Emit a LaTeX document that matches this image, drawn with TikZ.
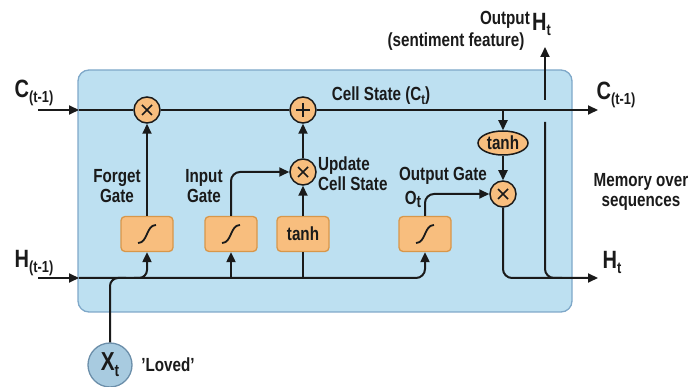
\documentclass[tikz,border=0pt]{standalone}
\usepackage{fontspec}
\setmainfont{Liberation Sans}[FakeStretch=0.8]
\usetikzlibrary{arrows.meta,shapes.geometric}
\definecolor{boxblue}{HTML}{BDE0F1}
\definecolor{boxedge}{HTML}{7FA8C9}
\definecolor{orfill}{HTML}{F8BE7E}
\definecolor{oredge}{HTML}{D8974A}
\definecolor{xtfill}{HTML}{A8CBE0}
\definecolor{xtedge}{HTML}{6C8FAA}
\definecolor{ink}{HTML}{1A1A1A}
\newcommand{\fs}[1]{\fontsize{#1}{#1}\selectfont}
\newcommand{\sbs}[1]{{\fs{16}\raisebox{-5pt}{#1}}}
\begin{document}
\begin{tikzpicture}[x=1pt,y=-1pt,
  wire/.style={line width=2pt, draw=ink},
  arr/.style={wire, -{Triangle[length=10pt,width=9pt]}},
  opc/.style={circle, draw=ink, line width=1.5pt, fill=orfill, minimum size=26pt, inner sep=0pt},
  gbox/.style={rectangle, rounded corners=4pt, draw=oredge, line width=1.3pt, fill=orfill, minimum width=52pt, minimum height=35pt, inner sep=0pt},
  lab/.style={font=\bfseries\fontsize{19}{20}\selectfont, align=center, text=ink, inner sep=0pt},
  big/.style={font=\bfseries\fs{25}, text=ink, inner sep=0pt}
]
\useasboundingbox (0,0) rectangle (691,387);
\newcommand{\sigsym}[1]{\draw[line width=1.8pt, ink] ([shift={(-9,9)}]#1.center) .. controls ([shift={(1,9)}]#1.center) and ([shift={(-1,-9)}]#1.center) .. ([shift={(9,-9)}]#1.center);}
\newcommand{\mulsym}[1]{\draw[line width=1.7pt, ink] ([shift={(-5,-5)}]#1.center) -- ([shift={(5,5)}]#1.center) ([shift={(-5,5)}]#1.center) -- ([shift={(5,-5)}]#1.center);}
\newcommand{\addsym}[1]{\draw[line width=1.7pt, ink] ([shift={(-7,0)}]#1.center) -- ([shift={(7,0)}]#1.center) ([shift={(0,-7)}]#1.center) -- ([shift={(0,7)}]#1.center);}

% main box
\draw[rounded corners=11pt, fill=boxblue, draw=boxedge, line width=1.3pt] (78,70) rectangle (572,312);

% coordinates
\coordinate (cin) at (38,110);
\coordinate (cl) at (79,110);
\coordinate (cout) at (598,110);
\coordinate (hin) at (38,278);
\coordinate (hl) at (79,278);
\coordinate (hout) at (598,278);

% operators
\node[opc] (fx) at (147,110) {};
\node[opc] (plus) at (303,110) {};
\node[opc] (ux) at (303,172) {};
\node[opc] (ox) at (503,194) {};
\node[ellipse, draw=ink, line width=1.5pt, fill=orfill, minimum width=50pt, minimum height=24pt, inner sep=0pt, font=\bfseries\fs{19}, text=ink] (th) at (503,143) {tanh};

% gates
\node[gbox] (g1) at (147,234) {};
\node[gbox] (g2) at (231,234) {};
\node[gbox, font=\bfseries\fs{19}, text=ink] (g3) at (303,234) {tanh};
\node[gbox] (g4) at (425,234) {};

% input
\node[circle, draw=xtedge, line width=1.3pt, fill=xtfill, minimum size=44pt, inner sep=0pt, font=\bfseries\fs{26}, text=ink] (xt) at (110,365) {X{\fs{17}\raisebox{-6pt}{t}}};

% cell state line
\draw[arr] (cin) -- (cl);
\draw[wire] (cl) -- (fx.west);
\draw[wire] (fx.east) -- (plus.west);
\draw[arr] (plus.east) -- (cout);

% hidden line
\draw[arr] (hin) -- (hl);
\draw[arr, rounded corners=9pt] (hl) -- (g4.south |- hl) -- (g4.south);
\draw[wire, rounded corners=8pt] (xt.north) -- (xt.north |- hl) -- ++(16,0);
\draw[arr, rounded corners=8pt] (134,278) -- (g1.south |- hl) -- (g1.south);
\draw[arr] (g2.south |- hl) -- (g2.south);
\draw[wire] (g3.south |- hl) -- (g3.south);

% gate connections
\draw[arr] (g1.north) -- (fx.south);
\draw[arr, rounded corners=9pt] (g2.north) -- (g2.north |- ux) -- (ux.west);
\draw[arr] (g3.north) -- (ux.south);
\draw[arr] (ux.north) -- (plus.south);
\draw[arr, rounded corners=9pt] (g4.north) -- (g4.north |- ox) -- (ox.west);
\draw[arr] (th.north |- cout) -- (th.north);
\draw[arr] (th.south) -- (ox.north);
\draw[arr, rounded corners=9pt] (ox.south) -- (ox.south |- hout) -- (hout);

% output vertical line with jump
\coordinate (vtop) at (545,47);
\draw[wire, rounded corners=9pt] (562,278) -- (545,278) -- (545,122);
\draw[arr] (545,100) -- (vtop);

% symbols
\mulsym{fx}
\addsym{plus}
\mulsym{ux}
\mulsym{ox}
\sigsym{g1}
\sigsym{g2}
\sigsym{g4}

% labels
\node[big] (lc1) at (34,93) {C\sbs{(t-1)}};
\node[big] (lh1) at (34,263) {H\sbs{(t-1)}};
\node[big] (lc2) at (616,95) {C\sbs{(t-1)}};
\node[big] (lh2) at (612,262) {H\sbs{t}};
\node[lab] (lcs) at (381,96) {Cell State (C{\fs{14}\raisebox{-4pt}{t}})};
\node[lab, anchor=east] (lout) at (530,20) {Output};
\node[big, anchor=west] (lht) at (532,24) {H\sbs{t}};
\node[lab] (lsent) at (456,42) {(sentiment feature)};
\node[lab] (lfg) at (117,186) {Forget\\Gate};
\node[lab] (lig) at (204,186) {Input\\Gate};
\node[lab, align=left, anchor=west] (lupd) at (318,174) {Update\\Cell State};
\node[lab] (log) at (443,176) {Output Gate};
\node[lab] (lot) at (413,199) {O{\fs{17}\raisebox{-3pt}{t}}};
\node[lab] (lmem) at (641,192) {Memory over\\sequences};
\node[lab] (llov) at (168,365) {'Loved'};
\end{tikzpicture}
\end{document}
